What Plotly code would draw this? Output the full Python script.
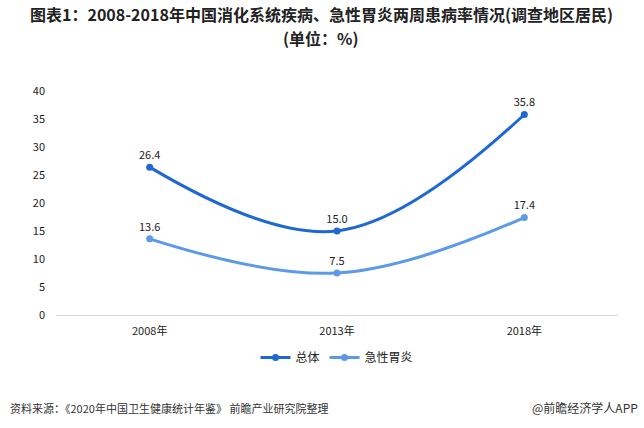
import plotly.graph_objects as go

years = ["2008年", "2013年", "2018年"]
total = [26.4, 15.0, 35.8]
gastritis = [13.6, 7.5, 17.4]
total_labels = ["26.4", "15.0", "35.8"]
gastritis_labels = ["13.6", "7.5", "17.4"]
y_ticks = [0, 5, 10, 15, 20, 25, 30, 35, 40]

FONT = "Microsoft YaHei, Noto Sans CJK SC, sans-serif"

fig = go.Figure()
fig.add_trace(go.Scatter(
    x=years, y=total, name="总体", mode="lines+markers+text",
    line=dict(color="#1F68D2", width=3, shape="spline", smoothing=1.1),
    marker=dict(size=7, color="#1F68D2"),
    text=total_labels, textposition="top center",
    textfont=dict(size=11, color="#222222", family=FONT),
    cliponaxis=False,
))
fig.add_trace(go.Scatter(
    x=years, y=gastritis, name="急性胃炎", mode="lines+markers+text",
    line=dict(color="#5C9AE8", width=3, shape="spline", smoothing=1.1),
    marker=dict(size=7, color="#5C9AE8"),
    text=gastritis_labels, textposition="top center",
    textfont=dict(size=11, color="#222222", family=FONT),
    cliponaxis=False,
))

fig.update_layout(
    width=644, height=428,
    margin=dict(l=56, r=26, t=91, b=113),
    paper_bgcolor="white", plot_bgcolor="white",
    font=dict(family=FONT, size=11, color="#333333"),
    xaxis=dict(
        range=[-0.5, 2.5],
        showline=True, linecolor="#d9d9d9", linewidth=1,
        showgrid=False, ticks="", tickfont=dict(size=11, color="#222222"),
        ticklabelstandoff=6,
    ),
    yaxis=dict(
        range=[0, 40], tickvals=y_ticks, showgrid=False, zeroline=False,
        showline=False, ticks="", tickfont=dict(size=11, color="#222222"),
        ticklabelstandoff=10,
    ),
    legend=dict(
        orientation="h", x=0.5, xanchor="center", y=-0.19, yanchor="middle",
        font=dict(size=12, color="#222222"), itemwidth=30,
    ),
    showlegend=True,
)

fig.add_annotation(
    text="<b>图表1：2008-2018年中国消化系统疾病、急性胃炎两周患病率情况(调查地区居民)</b>",
    xref="paper", yref="paper", x=0.472, y=1.342, xanchor="center", yanchor="middle",
    showarrow=False, borderpad=0, font=dict(size=16, color="#222222", family=FONT),
)
fig.add_annotation(
    text="<b>(单位：%)</b>",
    xref="paper", yref="paper", x=0.472, y=1.236, xanchor="center", yanchor="middle",
    showarrow=False, borderpad=0, font=dict(size=16, color="#222222", family=FONT),
)
fig.add_annotation(
    text="资料来源：《2020年中国卫生健康统计年鉴》 前瞻产业研究院整理",
    xref="paper", yref="paper", x=-0.085, y=-0.415, xanchor="left", yanchor="middle",
    showarrow=False, font=dict(size=11, color="#333333", family=FONT),
)
fig.add_annotation(
    text="@前瞻经济学人APP",
    xref="paper", yref="paper", x=1.039, y=-0.415, xanchor="right", yanchor="middle",
    showarrow=False, font=dict(size=12, color="#333333", family=FONT),
)

fig.write_html("out.html", config={"displayModeBar": False},
               post_script="document.body.style.margin='0';")
